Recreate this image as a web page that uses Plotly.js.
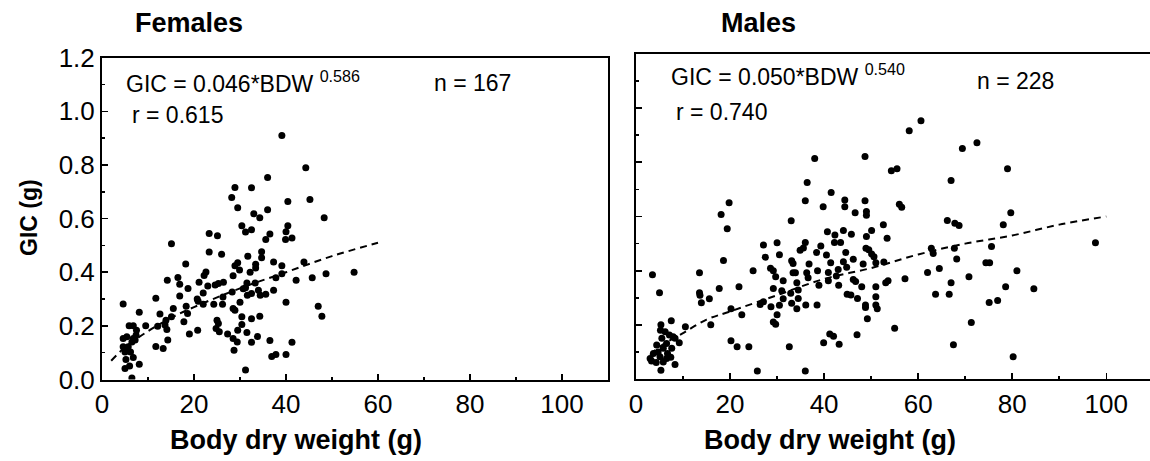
<!DOCTYPE html>
<html>
<head>
<meta charset="utf-8">
<script src="https://cdn.plot.ly/plotly-3.0.1.min.js"></script>
<style>
html,body{margin:0;padding:0;background:#fff;}
#chart{width:1150px;height:461px;}
</style>
</head>
<body>
<div id="chart"></div>
<script>
// ---- Data ----
const femaleBDW = [
28.9,28.2,29.5,30.4,31.2,23.3,25.1,15.1,23.3,26.0,31.7,18.2,29.5,28.9,22.6,22.2,29.9,28.5,16.5,14.2,
16.9,21.1,23.0,24.6,25.3,26.4,31.5,31.2,18.7,30.7,31.6,16.9,22.0,20.7,11.7,28.3,26.3,30.0,28.5,28.9,
24.3,26.2,22.0,20.9,18.3,18.6,15.5,17.8,15.1,13.9,12.6,13.7,14.1,12.1,9.5,8.1,4.6,25.0,25.3,24.8,
25.5,20.8,19.0,27.3,29.5,30.4,30.4,28.5,29.4,28.7,31.5,14.3,11.7,13.3,31.2,4.6,5.9,6.8,5.4,6.8,
7.4,7.2,4.6,5.7,5.0,6.2,5.2,6.8,6.0,5.0,8.1,6.5,5.5,6.5,7.5,
39.1,44.3,36.0,32.5,40.4,45.2,36.0,33.0,34.3,48.3,40.4,40.0,36.5,41.3,39.9,35.6,34.7,34.7,33.4,33.4,
37.3,39.1,43.9,32.2,39.1,37.8,42.2,45.7,48.7,54.8,33.3,34.0,32.5,34.4,35.6,37.3,40.0,47.0,47.8,34.3,
32.5,33.8,32.5,36.5,41.3,36.9,37.8,40.0,32.5
];
const femaleGIC = [
0.716,0.679,0.640,0.573,0.550,0.544,0.536,0.506,0.475,0.467,0.460,0.431,0.435,0.424,0.401,0.388,0.408,0.387,0.380,0.370,
0.355,0.363,0.349,0.352,0.358,0.363,0.360,0.342,0.339,0.338,0.314,0.311,0.323,0.300,0.303,0.326,0.308,0.288,0.265,0.258,
0.281,0.281,0.281,0.292,0.273,0.246,0.265,0.215,0.234,0.221,0.244,0.203,0.186,0.199,0.200,0.251,0.282,0.221,0.209,0.190,
0.178,0.184,0.170,0.170,0.184,0.205,0.234,0.153,0.140,0.109,0.175,0.147,0.123,0.116,0.035,0.153,0.200,0.200,0.159,0.153,
0.165,0.147,0.122,0.122,0.103,0.103,0.075,0.082,0.050,0.041,0.057,0.006,0.109,0.140,0.184,
0.910,0.790,0.753,0.715,0.664,0.671,0.633,0.618,0.603,0.603,0.573,0.551,0.543,0.528,0.522,0.522,0.476,0.454,0.430,0.416,
0.438,0.424,0.438,0.400,0.394,0.379,0.370,0.379,0.394,0.400,0.360,0.333,0.321,0.314,0.318,0.333,0.288,0.273,0.236,0.236,
0.227,0.160,0.139,0.145,0.139,0.086,0.093,0.093,0.558
];
const maleBDW = [
19.8,18.1,19.4,33.0,34.9,27.1,30.0,27.5,30.5,33.1,33.4,18.6,3.5,13.5,24.9,28.6,29.2,29.7,31.3,33.4,
33.9,34.2,17.7,21.9,29.2,31.0,32.9,34.5,5.0,13.5,13.6,15.6,13.9,31.3,34.5,27.1,26.4,28.7,30.5,33.1,
34.2,20.2,22.5,30.0,29.2,29.7,15.9,10.5,5.3,7.5,20.2,21.5,24.0,32.6,25.8,
5.2,6.2,7.1,5.5,7.9,9.2,8.3,4.4,6.5,5.8,7.6,3.7,4.7,6.7,7.4,3.3,4.3,5.8,8.3,5.3,3.0,6.5,5.1,
60.6,58.1,69.4,38.0,48.7,55.5,54.3,67.0,36.4,41.5,36.0,44.4,48.7,39.8,44.4,56.0,56.5,46.6,49.0,49.0,
66.2,67.8,68.7,52.6,40.7,42.3,44.1,45.8,50.1,53.4,42.2,43.5,49.0,36.0,39.3,48.9,49.5,38.4,40.5,44.6,
50.1,50.6,62.8,63.2,67.7,68.2,36.8,41.4,44.1,46.2,48.3,51.0,52.7,36.3,38.6,40.9,43.0,44.8,62.0,64.5,
36.6,38.9,40.9,42.6,43.1,46.2,46.7,48.0,51.0,53.1,53.6,57.2,67.0,36.1,38.5,44.9,45.7,47.1,48.8,48.8,
51.0,51.0,51.3,63.7,66.6,49.2,55.0,41.2,42.0,39.9,43.2,47.0,67.5,36.0,35.6,
72.5,79.0,79.7,78.1,97.7,75.6,74.4,75.2,81.0,70.8,78.6,84.6,75.1,76.9,71.3,80.2
];
const maleGIC = [
0.651,0.607,0.555,0.584,0.476,0.495,0.503,0.450,0.459,0.437,0.427,0.438,0.385,0.393,0.400,0.409,0.400,0.378,0.363,0.393,
0.393,0.356,0.335,0.341,0.335,0.326,0.317,0.329,0.319,0.319,0.310,0.297,0.282,0.297,0.298,0.286,0.276,0.267,0.273,0.280,
0.260,0.260,0.238,0.238,0.211,0.203,0.201,0.194,0.201,0.216,0.142,0.120,0.120,0.120,0.031,
0.181,0.175,0.163,0.151,0.157,0.135,0.151,0.126,0.132,0.114,0.114,0.095,0.101,0.095,0.081,0.067,0.062,0.064,0.055,0.033,0.077,0.077,0.083,
0.953,0.916,0.851,0.814,0.821,0.776,0.769,0.733,0.725,0.688,0.658,0.661,0.658,0.636,0.636,0.645,0.634,0.614,0.618,0.605,
0.585,0.575,0.567,0.570,0.544,0.532,0.548,0.535,0.548,0.520,0.504,0.504,0.526,0.504,0.491,0.483,0.477,0.467,0.458,0.467,
0.462,0.452,0.483,0.464,0.483,0.443,0.425,0.430,0.433,0.442,0.425,0.430,0.432,0.393,0.400,0.394,0.405,0.413,0.394,0.408,
0.374,0.347,0.363,0.381,0.347,0.368,0.360,0.341,0.341,0.356,0.363,0.371,0.356,0.274,0.274,0.313,0.311,0.298,0.274,0.265,
0.304,0.274,0.260,0.313,0.313,0.223,0.188,0.167,0.159,0.135,0.129,0.164,0.127,0.031,0.484,
0.872,0.776,0.614,0.570,0.503,0.489,0.430,0.430,0.400,0.378,0.341,0.334,0.283,0.290,0.209,0.083
];
// fitted (dashed) curves
const femaleFitBDW = [2, 5, 10, 15, 20, 30, 40, 50, 60];
const femaleFitGIC = [0.07, 0.12, 0.18, 0.23, 0.27, 0.34, 0.40, 0.46, 0.51];
const maleFitBDW = [3, 5, 10, 15, 20, 30, 40, 50, 60, 70, 80, 90, 100];
const maleFitGIC = [0.09, 0.12, 0.17, 0.22, 0.25, 0.31, 0.37, 0.41, 0.46, 0.50, 0.53, 0.57, 0.60];

const xTickVals = [0, 20, 40, 60, 80, 100];
const yTickVals = [0.0, 0.2, 0.4, 0.6, 0.8, 1.0, 1.2];

// ---- Layout geometry ----
const W = 1150, H = 461;
const px = v => v / W;
const py = v => (H - v) / H;
const FONT = 'Arial, "Liberation Sans", sans-serif';

const marker = {color: 'black', size: 7};
const traces = [
  {x: femaleBDW, y: femaleGIC, type: 'scatter', mode: 'markers', marker: marker, xaxis: 'x', yaxis: 'y', hoverinfo: 'x+y'},
  {x: femaleFitBDW, y: femaleFitGIC, type: 'scatter', mode: 'lines', line: {color: 'black', width: 2, dash: '7px,5px', shape: 'spline'}, xaxis: 'x', yaxis: 'y'},
  {x: maleBDW, y: maleGIC, type: 'scatter', mode: 'markers', marker: marker, xaxis: 'x2', yaxis: 'y2', hoverinfo: 'x+y'},
  {x: maleFitBDW, y: maleFitGIC, type: 'scatter', mode: 'lines', line: {color: 'black', width: 2, dash: '7px,5px', shape: 'spline'}, xaxis: 'x2', yaxis: 'y2'}
];

function xAxis(domain, range) {
  return {
    domain: domain, range: range, tickvals: xTickVals, ticktext: xTickVals.map(String),
    ticks: 'inside', ticklen: 6, tickwidth: 1.5, tickcolor: 'black',
    minor: {dtick: 10, tick0: 0, ticks: 'inside', ticklen: 3, tickwidth: 1.5, tickcolor: 'black', showgrid: false},
    showline: true, linewidth: 2, linecolor: 'black', mirror: true,
    showgrid: false, zeroline: false,
    tickfont: {family: FONT, size: 26, color: 'black'}
  };
}
function yAxis(domain, labels, mirror) {
  return {
    domain: domain, range: [0, 1.2], tickvals: yTickVals, ticktext: yTickVals.map(v => v.toFixed(1)),
    showticklabels: labels,
    ticks: 'inside', ticklen: 6, tickwidth: 1.5, tickcolor: 'black',
    minor: {dtick: 0.1, tick0: 0, ticks: 'inside', ticklen: 3, tickwidth: 1.5, tickcolor: 'black', showgrid: false},
    showline: true, linewidth: 2, linecolor: 'black', mirror: mirror,
    showgrid: false, zeroline: false,
    tickfont: {family: FONT, size: 26, color: 'black'}
  };
}

const ann = (text, x, y, size, bold, extra) => Object.assign({
  text: bold ? '<b>' + text + '</b>' : text,
  xref: 'paper', yref: 'paper', x: px(x), y: py(y),
  xanchor: 'left', yanchor: 'middle', showarrow: false,
  font: {family: FONT, size: size, color: 'black'}
}, extra || {});

const layout = {
  width: W, height: H,
  margin: {l: 0, r: 0, t: 0, b: 0},
  paper_bgcolor: 'white', plot_bgcolor: 'white',
  showlegend: false,
  xaxis: Object.assign(xAxis([px(102), px(608)], [0, 110]), {anchor: 'y'}),
  yaxis: Object.assign(yAxis([py(379.5), py(57.7)], true, true), {anchor: 'x'}),
  xaxis2: Object.assign(xAxis([px(636), 1.0], [0, 109.3]), {anchor: 'y2'}),
  yaxis2: Object.assign(yAxis([py(379.3), py(53.7)], false, false), {anchor: 'x2'}),
  annotations: [
    ann('Females', 189, 23, 27, true, {xanchor: 'center'}),
    ann('Males', 758, 23, 27, true, {xanchor: 'center'}),
    ann('GIC (g)', 29, 218, 23, true, {xanchor: 'center', textangle: -90}),
    ann('Body dry weight (g)', 296, 440, 27, true, {xanchor: 'center'}),
    ann('Body dry weight (g)', 830, 440, 27, true, {xanchor: 'center'}),
    ann('GIC = 0.046*BDW <sup>0.586</sup>', 124, 82, 23, false),
    ann('r = 0.615', 130, 115, 23, false),
    ann('n = 167', 432, 83, 23, false),
    ann('GIC = 0.050*BDW <sup>0.540</sup>', 669, 75, 23, false),
    ann('r = 0.740', 674, 112, 23, false),
    ann('n = 228', 975, 81, 23, false)
  ]
};

Plotly.newPlot('chart', traces, layout, {displayModeBar: false, staticPlot: true});
</script>
</body>
</html>
